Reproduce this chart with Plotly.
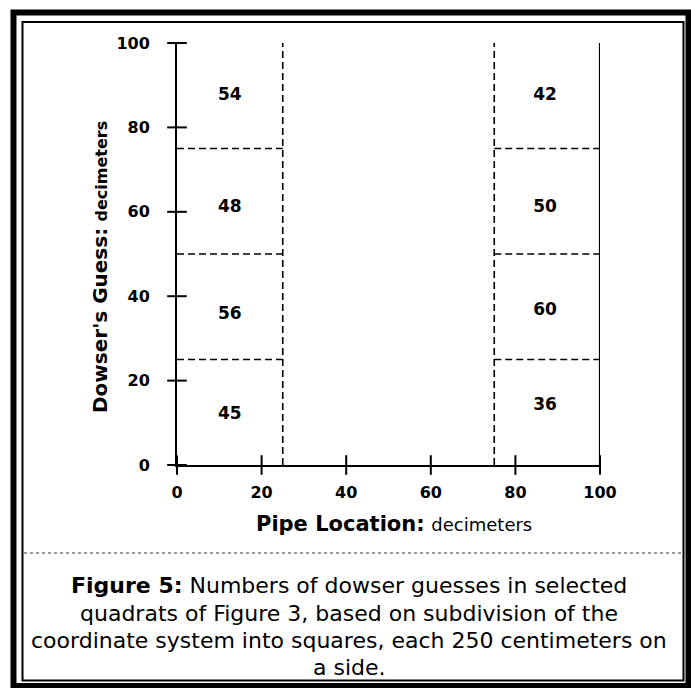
import plotly.graph_objects as go

# ---- data ----
x_splits = [25, 75]            # vertical quadrat boundaries (decimeters)
y_splits = [25, 50, 75]        # horizontal quadrat boundaries
left_counts = [45, 56, 48, 54]     # bottom -> top, column 0-25
right_counts = [36, 60, 50, 42]    # bottom -> top, column 75-100
left_label_y = [12, 35.5, 61, 87.5]
right_label_y = [14, 36.5, 61, 87.5]
left_label_x = 12.5
right_label_x = 87
tick_vals = [0, 20, 40, 60, 80, 100]
caption_lines = [
    "<b>Figure 5:</b> Numbers of dowser guesses in selected",
    "quadrats of Figure 3, based on subdivision of the",
    "coordinate system into squares, each 250 centimeters on",
    "a side.",
]

W, H = 691, 688
L, R, T, B = 177, 600, 43, 465


def px(x):
    return (x - L) / (R - L)


def py(y):
    return (B - y) / (B - T)


fig = go.Figure()

# count labels
fig.add_trace(go.Scatter(
    x=[left_label_x] * len(left_counts) + [right_label_x] * len(right_counts),
    y=left_label_y + right_label_y,
    text=[str(v) for v in left_counts + right_counts],
    mode="text",
    textfont=dict(family="DejaVu Sans", size=17, color="black", weight="bold"),
    hoverinfo="skip", showlegend=False,
))
# crossing tick marks on both axes
fig.add_trace(go.Scatter(
    x=tick_vals, y=[0] * len(tick_vals), mode="markers", cliponaxis=False,
    marker=dict(symbol="line-ns", size=14, line=dict(color="black", width=2)),
    hoverinfo="skip", showlegend=False))
fig.add_trace(go.Scatter(
    x=[0] * len(tick_vals), y=tick_vals, mode="markers", cliponaxis=False,
    marker=dict(symbol="line-ew", size=14, line=dict(color="black", width=2)),
    hoverinfo="skip", showlegend=False))

shapes = []
dash = "7px,4px"
for xs in x_splits:
    shapes.append(dict(type="line", xref="x", yref="y", x0=xs, x1=xs, y0=0, y1=100.5,
                       line=dict(color="black", width=1.6, dash=dash)))
for ys in y_splits:
    shapes.append(dict(type="line", xref="x", yref="y", x0=0, x1=x_splits[0], y0=ys, y1=ys,
                       line=dict(color="black", width=1.6, dash=dash)))
    shapes.append(dict(type="line", xref="x", yref="y", x0=x_splits[1], x1=100, y0=ys, y1=ys,
                       line=dict(color="black", width=1.6, dash=dash)))
# right solid edge
shapes.append(dict(type="line", xref="x", yref="y", x0=100, x1=100, y0=0, y1=101.5,
                   line=dict(color="black", width=2.2)))
# frame borders
shapes.append(dict(type="rect", xref="paper", yref="paper",
                   x0=px(13.5), x1=px(688.5), y0=py(12.5), y1=py(686),
                   line=dict(color="black", width=6)))
shapes.append(dict(type="rect", xref="paper", yref="paper",
                   x0=px(22.5), x1=px(683.5), y0=py(22), y1=py(680.5),
                   line=dict(color="black", width=2)))
shapes.append(dict(type="line", xref="paper", yref="paper",
                   x0=px(24), x1=px(682), y0=py(553), y1=py(553),
                   line=dict(color="#9a9a9a", width=2, dash="dot")))

annotations = [
    dict(text="<b>Pipe Location:</b> <span style=\"font-size:18px\">decimeters</span>",
         xref="paper", yref="paper", x=px(394), y=py(524), showarrow=False,
         xanchor="center", yanchor="middle",
         font=dict(family="DejaVu Sans", size=21, color="black")),
    dict(text="<b>Dowser's Guess:</b> <b style=\"font-size:16px\">decimeters</b>",
         xref="paper", yref="paper", x=px(100), y=py(267), showarrow=False,
         textangle=-90, xanchor="center", yanchor="middle",
         font=dict(family="DejaVu Sans", size=20, color="black")),
]
for line, yy in zip(caption_lines, [585, 613, 640, 667]):
    annotations.append(dict(text=line, xref="paper", yref="paper", x=px(349), y=py(yy),
                            showarrow=False, xanchor="center", yanchor="middle",
                            font=dict(family="DejaVu Sans", size=22, color="black")))

axis_common = dict(range=[0, 100], showgrid=False, zeroline=False,
                   tickvals=tick_vals, ticks="",
                   showline=True, linecolor="black", linewidth=2,
                   tickfont=dict(family="DejaVu Sans", size=16, color="black", weight="bold"))

fig.update_layout(
    width=W, height=H,
    margin=dict(l=L, r=W - R, t=T, b=H - B, pad=0),
    paper_bgcolor="white", plot_bgcolor="white",
    xaxis=dict(**axis_common, ticklabelstandoff=12),
    yaxis=dict(**axis_common, ticklabelstandoff=22),
    shapes=shapes,
    annotations=annotations,
    showlegend=False,
)

fig.write_html("out.html", config={"displayModeBar": False},
               post_script="document.body.style.margin='0';")
